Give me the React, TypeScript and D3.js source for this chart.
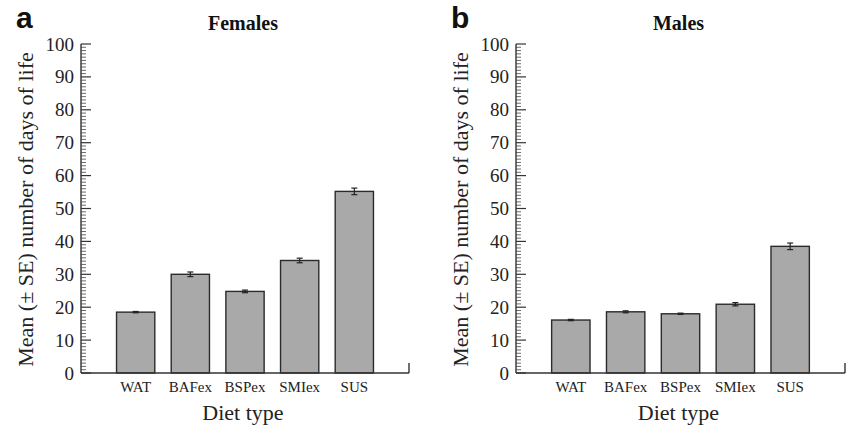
import React, { useEffect, useRef } from "react"
import * as d3 from "d3"

const categories = ["WAT", "BAFex", "BSPex", "SMIex", "SUS"]
const femaleMeans = [18.5, 30.0, 24.8, 34.2, 55.2]
const femaleSE = [0.2, 0.7, 0.4, 0.7, 1.0]
const maleMeans = [16.1, 18.6, 18.0, 20.9, 38.5]
const maleSE = [0.2, 0.3, 0.2, 0.5, 1.0]
const yTicks = [0, 10, 20, 30, 40, 50, 60, 70, 80, 90, 100]

const serif = "Liberation Serif"
const sans = "Liberation Sans"

function drawPanel(g, opts) {
    var { left, right, top, bottom, means, se, title, letter } = opts

    var y_scale = d3.scaleLinear().domain([0, 100]).range([bottom, top])
    // 7 slots: empty, 5 categories, empty
    var x_scale = d3
        .scalePoint()
        .domain(["_l", ...categories, "_r"])
        .range([left, right])
    var barW = x_scale.step() * 0.7

    // bars
    g.selectAll(".bar")
        .data(categories)
        .join("rect")
        .attr("class", "bar")
        .attr("x", (d) => x_scale(d) - barW / 2)
        .attr("width", barW)
        .attr("y", (d, i) => y_scale(means[i]))
        .attr("height", (d, i) => bottom - y_scale(means[i]))
        .attr("fill", "#a9a9a9")
        .attr("stroke", "#2b2b2b")
        .attr("stroke-width", 1.4)

    // error bars
    var err = g.selectAll(".err").data(categories).join("g").attr("class", "err")
    err.append("line")
        .attr("x1", (d) => x_scale(d))
        .attr("x2", (d) => x_scale(d))
        .attr("y1", (d, i) => y_scale(means[i] - se[i]))
        .attr("y2", (d, i) => y_scale(means[i] + se[i]))
    err.append("line")
        .attr("x1", (d) => x_scale(d) - 3)
        .attr("x2", (d) => x_scale(d) + 3)
        .attr("y1", (d, i) => y_scale(means[i] + se[i]))
        .attr("y2", (d, i) => y_scale(means[i] + se[i]))
    err.append("line")
        .attr("x1", (d) => x_scale(d) - 3)
        .attr("x2", (d) => x_scale(d) + 3)
        .attr("y1", (d, i) => y_scale(means[i] - se[i]))
        .attr("y2", (d, i) => y_scale(means[i] - se[i]))
    err.selectAll("line").attr("stroke", "#222").attr("stroke-width", 1.2)

    // minor ticks (inside)
    g.selectAll(".minor")
        .data(d3.range(0, 101, 1).filter((v) => v % 10 !== 0))
        .join("line")
        .attr("class", "minor")
        .attr("x1", left)
        .attr("x2", left + 5)
        .attr("y1", (d) => y_scale(d))
        .attr("y2", (d) => y_scale(d))
        .attr("stroke", "#444")
        .attr("stroke-width", 0.8)

    // major ticks
    g.selectAll(".major")
        .data(yTicks)
        .join("line")
        .attr("class", "major")
        .attr("x1", left)
        .attr("x2", left + 10)
        .attr("y1", (d) => y_scale(d))
        .attr("y2", (d) => y_scale(d))
        .attr("stroke", "#333")
        .attr("stroke-width", 1.2)

    g.selectAll(".ylab")
        .data(yTicks)
        .join("text")
        .attr("class", "ylab")
        .attr("x", left - 7)
        .attr("y", (d) => y_scale(d) + 6.5)
        .attr("text-anchor", "end")
        .style("font-family", serif)
        .style("font-size", "19px")
        .attr("fill", "#222")
        .text((d) => d)

    // axis lines
    g.append("line")
        .attr("x1", left).attr("x2", left)
        .attr("y1", y_scale(100)).attr("y2", bottom)
        .attr("stroke", "#333").attr("stroke-width", 1.4)
    g.append("line")
        .attr("x1", left).attr("x2", right)
        .attr("y1", bottom).attr("y2", bottom)
        .attr("stroke", "#333").attr("stroke-width", 1.4)
    g.append("line")
        .attr("x1", right).attr("x2", right)
        .attr("y1", bottom).attr("y2", bottom - 10)
        .attr("stroke", "#333").attr("stroke-width", 1.4)

    // category labels
    g.selectAll(".xlab")
        .data(categories)
        .join("text")
        .attr("class", "xlab")
        .attr("x", (d) => x_scale(d))
        .attr("y", bottom + 19)
        .attr("text-anchor", "middle")
        .style("font-family", serif)
        .style("font-size", "15px")
        .attr("fill", "#222")
        .text((d) => d)

    var midX = (x_scale("WAT") + x_scale("SUS")) / 2 - 2
    g.append("text")
        .attr("x", midX)
        .attr("y", bottom + 47)
        .attr("text-anchor", "middle")
        .style("font-family", serif)
        .style("font-size", "22px")
        .attr("fill", "#222")
        .text("Diet type")

    g.append("text")
        .attr("transform", `translate(${left - 48}, ${(top + bottom) / 2 + 1}) rotate(-90)`)
        .attr("text-anchor", "middle")
        .style("font-family", serif)
        .style("font-size", "22px")
        .attr("fill", "#222")
        .text("Mean (± SE) number of days of life")

    g.append("text")
        .attr("x", midX)
        .attr("y", 30)
        .attr("text-anchor", "middle")
        .style("font-family", serif)
        .style("font-weight", "bold")
        .style("font-size", "20px")
        .attr("fill", "#111")
        .text(title)

    g.append("text")
        .attr("x", left - 65)
        .attr("y", 28)
        .style("font-family", sans)
        .style("font-weight", "bold")
        .style("font-size", "30px")
        .attr("fill", "#111")
        .text(letter)
}

export default function App() {
    const ref = useRef(null)

    useEffect(() => {
        var svg = d3.select(ref.current)
        svg.selectAll("*").remove()
        drawPanel(svg.append("g"), {
            left: 81, right: 409, top: 44, bottom: 373,
            means: femaleMeans, se: femaleSE, title: "Females", letter: "a",
        })
        drawPanel(svg.append("g"), {
            left: 516, right: 845, top: 44, bottom: 373,
            means: maleMeans, se: maleSE, title: "Males", letter: "b",
        })
    }, [])

    return (
        <svg
            ref={ref}
            width={849}
            height={429}
            style={{ position: "absolute", left: 0, top: 0, background: "#fff" }}
        />
    )
}
